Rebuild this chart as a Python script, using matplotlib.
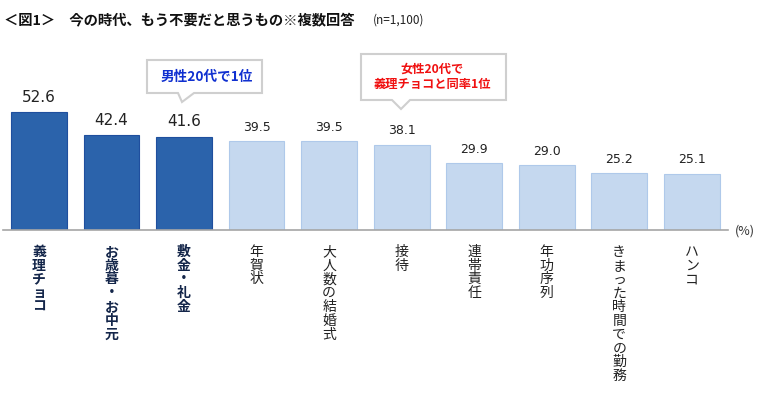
import matplotlib
matplotlib.use("Agg")
import matplotlib.pyplot as plt
from matplotlib.patches import Polygon

plt.rcParams['font.family'] = ['Noto Sans CJK JP', 'DejaVu Sans']

categories = ["義理チョコ", "お歳暮・お中元", "敷金・礼金", "年賀状", "大人数の結婚式",
              "接待", "連帯責任", "年功序列", "きまった時間での勤務", "ハンコ"]
values = [52.6, 42.4, 41.6, 39.5, 39.5, 38.1, 29.9, 29.0, 25.2, 25.1]
highlight = [True, True, True, False, False, False, False, False, False, False]

W, H = 760, 402
fig = plt.figure(figsize=(W / 100, H / 100), dpi=100)


def fx(px):
    return px / W


def fy(py):
    return 1 - py / H


ax = fig.add_axes([fx(2.7), fy(231), fx(728) - fx(2.7), fy(96.4) - fy(231)])
ax.set_xlim(-0.5, len(values) - 0.5)
ax.set_ylim(0, 60)

x = range(len(values))
face = ["#2B63AB" if h else "#C5D8EF" for h in highlight]
edge = ["#1F4F9E" if h else "#AFC9EA" for h in highlight]
ax.bar(x, values, width=0.77, color=face, edgecolor=edge, linewidth=0.8, zorder=2)

for i, v in enumerate(values):
    ax.annotate(f"{v:.1f}", (i, v), xytext=(0, 6 if highlight[i] else 6),
                textcoords="offset points", ha="center", va="bottom",
                fontsize=11 if highlight[i] else 9, family="DejaVu Sans",
                color="#222222")

for s in ["top", "right", "left"]:
    ax.spines[s].set_visible(False)
ax.spines["bottom"].set_color("#A6A6A6")
ax.spines["bottom"].set_linewidth(1.2)
ax.set_yticks([])
ax.set_xticks(list(x))
ax.set_xticklabels(["\n".join(c) for c in categories], va="top", linespacing=0.98)
ax.tick_params(axis="x", length=0, pad=10)
for lab, h in zip(ax.get_xticklabels(), highlight):
    lab.set_fontsize(10)
    if h:
        lab.set_fontweight("bold")
        lab.set_color("#14264A")
    else:
        lab.set_color("#222222")

fig.text(fx(735), fy(231), "(%)", fontsize=9, va="center", ha="left", color="#333333")

# title
fig.text(fx(4), fy(20), "＜図1＞　今の時代、もう不要だと思うもの※複数回答", fontsize=10.3,
         fontweight="bold", va="center", ha="left", color="#111111")
fig.text(fx(373), fy(20), "(n=1,100)", fontsize=8.5, va="center", ha="left",
         color="#222222")


def callout(left, right, top, bottom, tl, tr, tipx, tipy):
    pts = [(left, top), (right, top), (right, bottom), (tr, bottom), (tipx, tipy),
           (tl, bottom), (left, bottom)]
    poly = Polygon([(fx(a), fy(b)) for a, b in pts], closed=True,
                   transform=fig.transFigure, facecolor="white",
                   edgecolor="#CFCFCF", linewidth=1.5, zorder=5)
    fig.patches.append(poly)


callout(147, 262, 61, 94, 178, 194, 182, 103)
fig.text(fx(207), fy(77), "男性20代で1位", fontsize=9.8, fontweight="bold",
         color="#1030D0", ha="center", va="center", zorder=6)

callout(361, 506, 55, 101, 392, 410, 401, 110)
fig.text(fx(432), fy(77), "女性20代で\n義理チョコと同率1位", fontsize=8.8,
         fontweight="bold", color="#F01010", ha="center", va="center",
         linespacing=1.2, zorder=6)

fig.savefig("out.png", dpi=100)
